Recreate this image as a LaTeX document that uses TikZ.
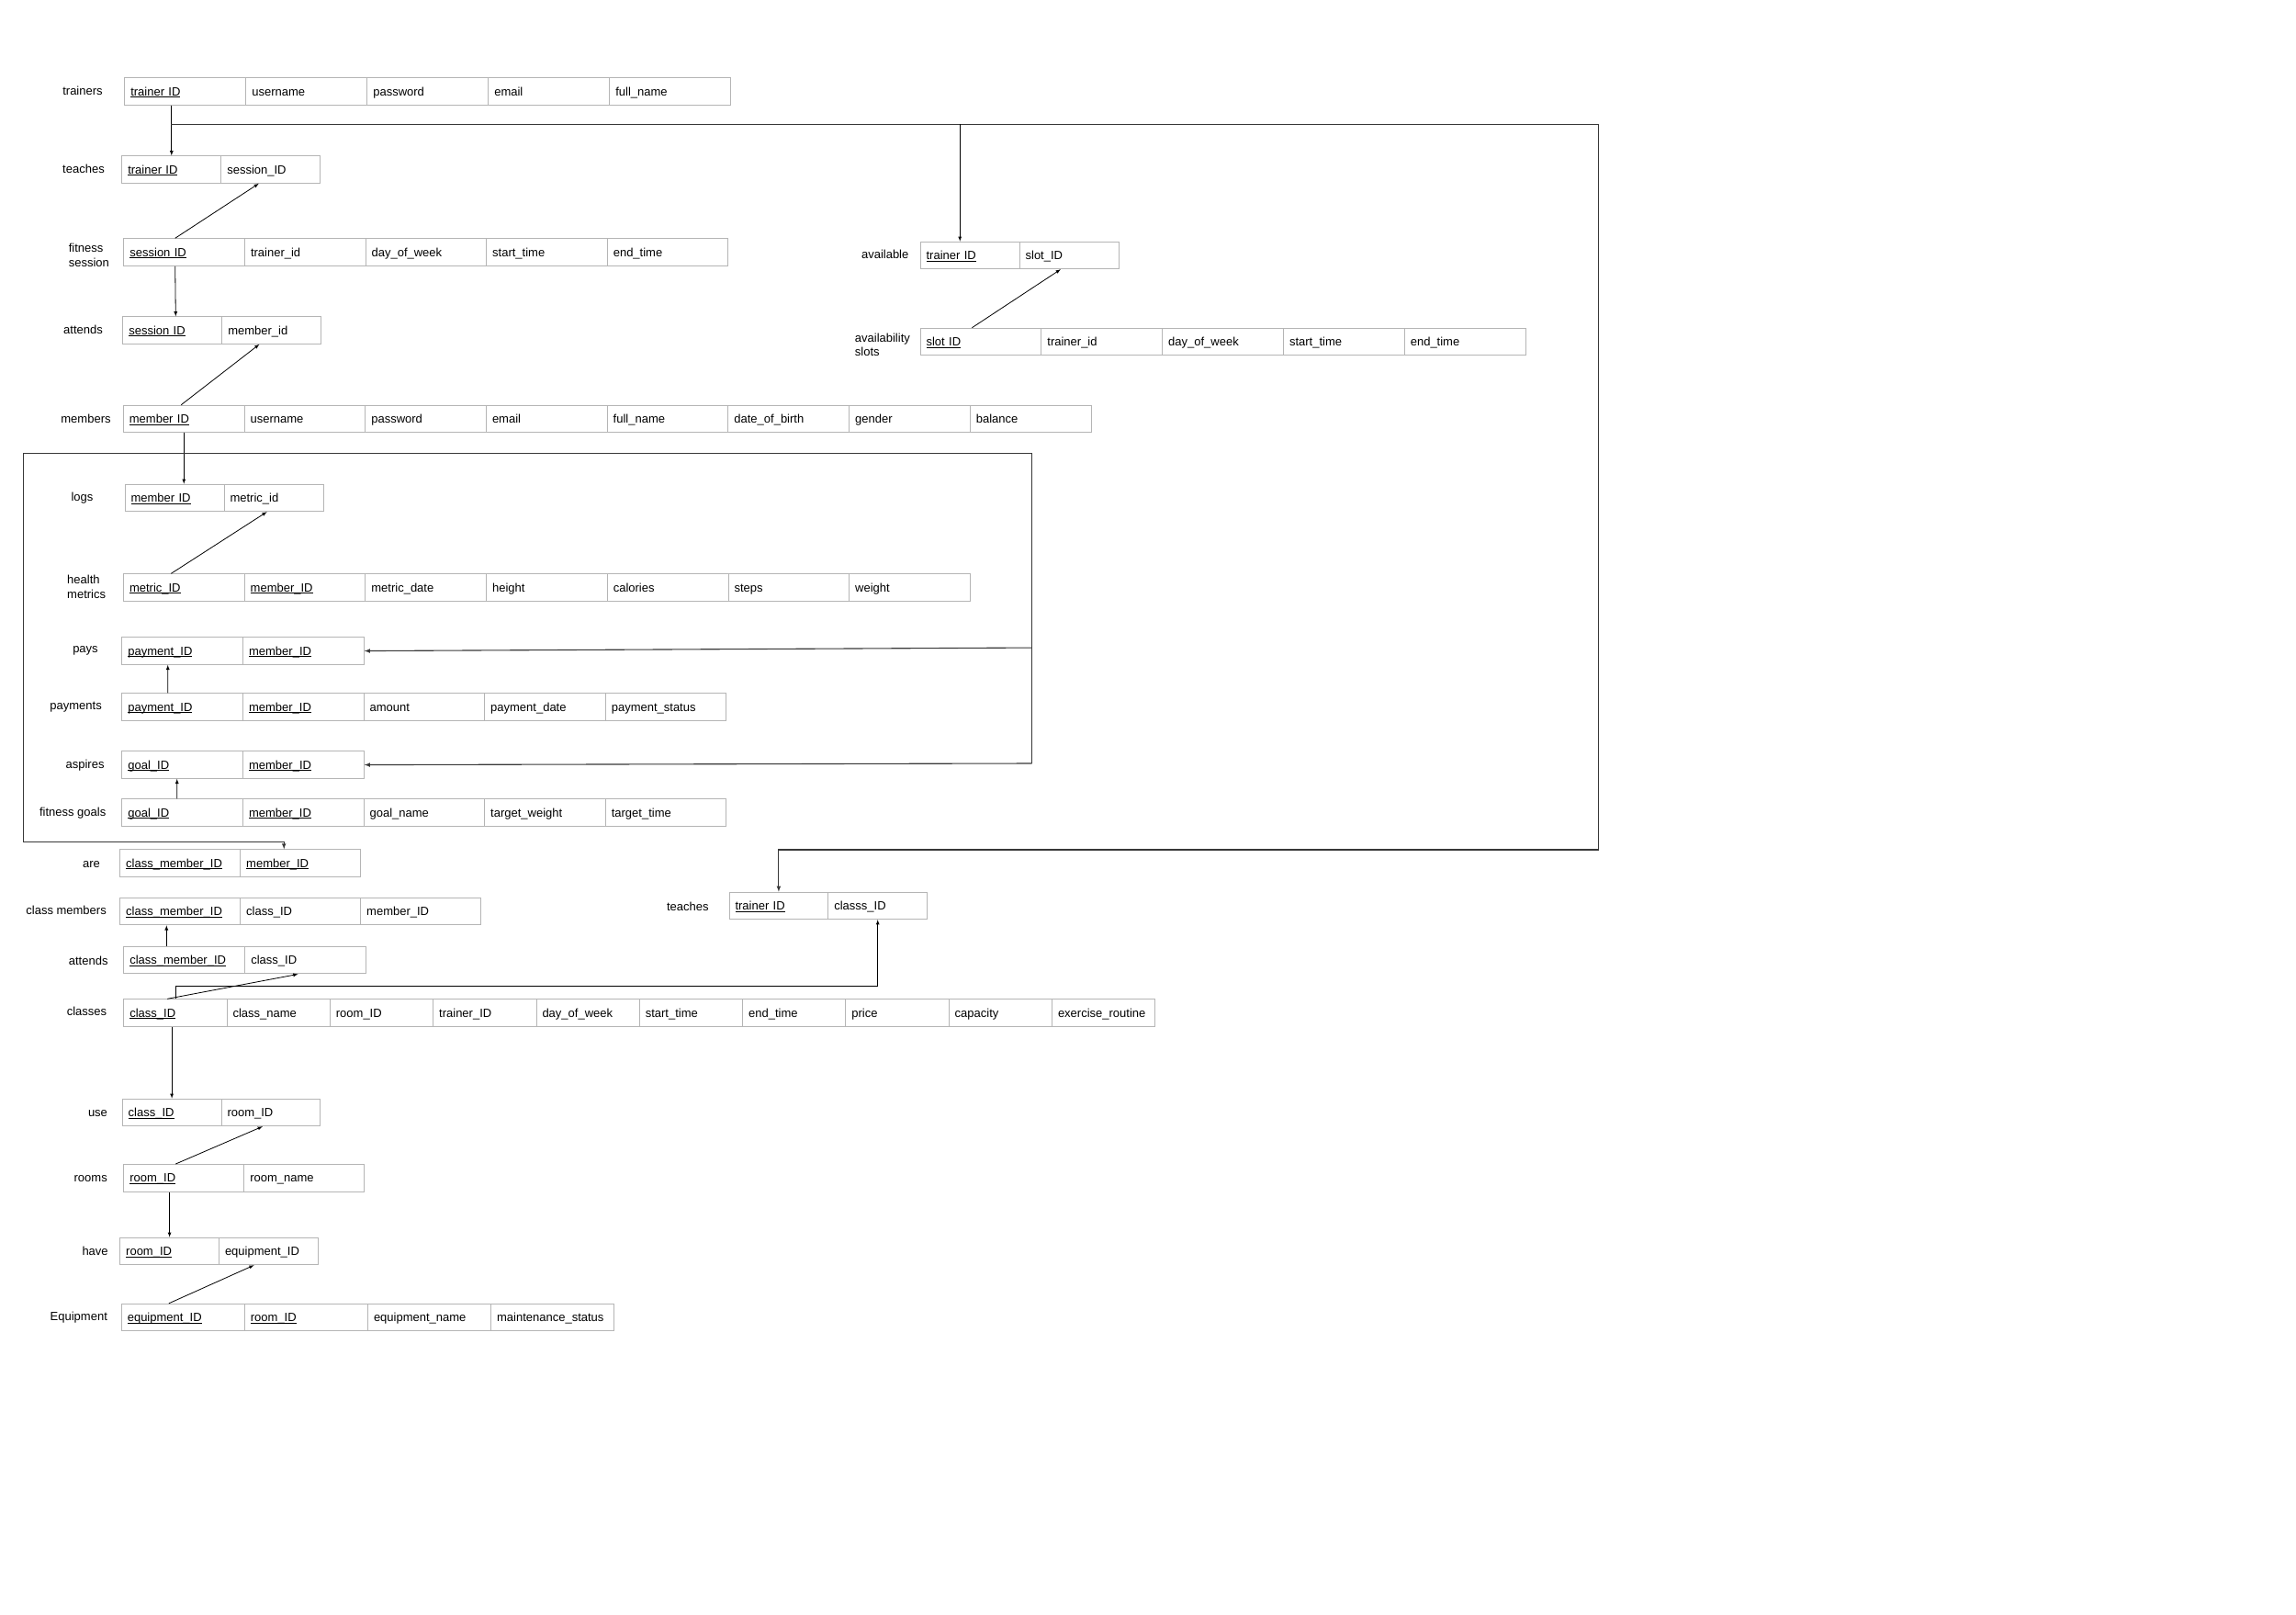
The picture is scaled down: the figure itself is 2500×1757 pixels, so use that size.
\documentclass[tikz,border=0pt]{standalone}
\usepackage{fontspec}
\setmainfont{Liberation Sans}
\usepackage{tikz}
\usetikzlibrary{positioning}
\usetikzlibrary{calc}
\definecolor{cellgray}{HTML}{B5B5B5}
\definecolor{busgray}{HTML}{383838}
\newcommand{\ukey}[1]{\underline{\smash{#1}}}
\tikzset{every picture/.style={line width=1pt}}
\begin{document}
\begin{tikzpicture}[x=1pt,y=-1pt,font=\fontsize{13}{15.5}\selectfont,
cell/.style={draw=cellgray,anchor=north west,inner xsep=6.5pt,inner ysep=0pt,text width=#1,minimum height=29.5pt,text height=10.5pt,text depth=1.5pt,align=left},
tname/.style={inner sep=0pt},
link/.style={-latex,line width=0.8pt},
bus/.style={draw=busgray,line width=1.1pt}]
\useasboundingbox (0,0) rectangle (2500,1757);
% trainers
\node[tname] (trl) at (90,99) {trainers};
\foreach \t [count=\i] in {\ukey{trainer ID},username,password,email,full\_name}
\node[cell=119pt] (tr\i) at ({135.3+132*(\i-1)},84.3) {\t};
% teaches
\node[tname] (tel) at (91,184) {teaches};
\foreach \t [count=\i] in {\ukey{trainer ID},session\_ID}
\node[cell=95pt] (te\i) at ({132.3+108*(\i-1)},169.3) {\t};
% fitness session
\node[tname,align=left,anchor=west] (fsl) at (74.3,277.7) {fitness\\session};
\foreach \t [count=\i] in {\ukey{session ID},trainer\_id,day\_of\_week,start\_time,end\_time}
\node[cell=118.6pt] (fs\i) at ({134.4+131.6*(\i-1)},259.3) {\t};
% attends
\node[tname] (atl) at (90.5,359) {attends};
\foreach \t [count=\i] in {\ukey{session ID},member\_id}
\node[cell=95pt] (at\i) at ({133.3+108*(\i-1)},344.3) {\t};
% members
\node[tname] (mel) at (93.5,456) {members};
\foreach \t [count=\i] in {\ukey{member ID},username,password,email,full\_name,date\_of\_birth,gender,balance}
\node[cell=118.7pt] (me\i) at ({133.9+131.7*(\i-1)},440.7) {\t};
% logs
\node[tname] (lol) at (89.5,542) {logs};
\foreach \t [count=\i] in {\ukey{member ID},metric\_id}
\node[cell=95pt] (lo\i) at ({135.5+108*(\i-1)},526.7) {\t};
% health metrics
\node[tname,align=left,anchor=west] (hml) at (72.7,638.7) {health\\metrics};
\foreach \t [count=\i] in {\ukey{metric\_ID},\ukey{member\_ID},metric\_date,height,calories,steps,weight}
\node[cell=118.7pt] (hm\i) at ({134+131.7*(\i-1)},624.3) {\t};
% pays
\node[tname] (pal) at (93,708.3) {pays};
\foreach \t [count=\i] in {\ukey{payment\_ID},\ukey{member\_ID}}
\node[cell=118.7pt] (pa\i) at ({132.4+131.7*(\i-1)},693.3) {\t};
% payments
\node[tname] (pml) at (82.6,769.3) {payments};
\foreach \t [count=\i] in {\ukey{payment\_ID},\ukey{member\_ID},amount,payment\_date,payment\_status}
\node[cell=118.6pt] (pm\i) at ({132.4+131.6*(\i-1)},754.3) {\t};
% aspires
\node[tname] (asl) at (92.6,832.7) {aspires};
\foreach \t [count=\i] in {\ukey{goal\_ID},\ukey{member\_ID}}
\node[cell=118.7pt] (as\i) at ({132.4+131.7*(\i-1)},817.3) {\t};
% fitness goals
\node[tname] (fgl) at (79.2,885) {fitness goals};
\foreach \t [count=\i] in {\ukey{goal\_ID},\ukey{member\_ID},goal\_name,target\_weight,target\_time}
\node[cell=118.6pt] (fg\i) at ({132.4+131.6*(\i-1)},869.3) {\t};
% are
\node[tname] (arl) at (99.5,941) {are};
\foreach \t [count=\i] in {\ukey{class\_member\_ID},\ukey{member\_ID}}
\node[cell=118pt] (ar\i) at ({130.2+131*(\i-1)},924.4) {\t};
% class members
\node[tname] (cml) at (72.1,990.8) {class members};
\foreach \t [count=\i] in {\ukey{class\_member\_ID},class\_ID,member\_ID}
\node[cell=118pt] (cm\i) at ({130.2+131*(\i-1)},976.8) {\t};
% attends (classes)
\node[tname] (cal) at (96.2,1046) {attends};
\foreach \t [count=\i] in {\ukey{class\_member\_ID},class\_ID}
\node[cell=119pt] (ca\i) at ({134.3+132*(\i-1)},1029.9) {\t};
% classes
\node[tname] (cll) at (94.5,1101) {classes};
\foreach \t [count=\i] in {\ukey{class\_ID},class\_name,room\_ID,trainer\_ID,day\_of\_week,start\_time,end\_time,price,capacity,exercise\_routine}
\node[cell=99.3pt] (cl\i) at ({134.3+112.3*(\i-1)},1087.3) {\t};
% teaches (classes)
\node[tname] (tcl) at (748.8,986.8) {teaches};
\foreach \t [count=\i] in {\ukey{trainer ID},classs\_ID}
\node[cell=94.8pt] (tc\i) at ({793.5+107.8*(\i-1)},970.7) {\t};
% use
\node[tname] (usl) at (106.5,1212.5) {use};
\foreach \t [count=\i] in {\ukey{class\_ID},room\_ID}
\node[cell=94.8pt] (us\i) at ({132.7+107.8*(\i-1)},1195.7) {\t};
% rooms
\node[tname] (rol) at (98.7,1283) {rooms};
\foreach \t [count=\i] in {\ukey{room\_ID},room\_name}
\node[cell=118pt] (ro\i) at ({134.3+131*(\i-1)},1267) {\t};
% have
\node[tname] (hal) at (103.6,1362) {have};
\foreach \t [count=\i] in {\ukey{room\_ID},equipment\_ID}
\node[cell=94.8pt] (ha\i) at ({130.2+107.8*(\i-1)},1346.7) {\t};
% Equipment
\node[tname] (eql) at (85.8,1434.3) {Equipment};
\foreach \t [count=\i] in {\ukey{equipment\_ID},\ukey{room\_ID},equipment\_name,maintenance\_status}
\node[cell=121.1pt] (eq\i) at ({131.8+134.1*(\i-1)},1418.8) {\t};
% available
\node[tname] (avl) at (963.7,277.3) {available};
\foreach \t [count=\i] in {\ukey{trainer ID},slot\_ID}
\node[cell=95pt] (av\i) at ({1001.6+108*(\i-1)},262.7) {\t};
% availability slots
\node[tname,align=left,anchor=west] (sll) at (930.4,375.5) {availability\\slots};
\foreach \t [count=\i] in {\ukey{slot ID},trainer\_id,day\_of\_week,start\_time,end\_time}
\node[cell=118.8pt] (sl\i) at ({1001.6+131.8*(\i-1)},356.7) {\t};
% bus corners
\coordinate (tbus) at (186.4,135.3);
\coordinate (avbus) at (1045.2,135.3);
\coordinate (tcorner) at (1740.7,925);
\coordinate (mbus) at (199.5,493.3);
\coordinate (lcorner) at (25.3,916.7);
\coordinate (rcorner) at (1123.5,831);
% trainer links
\draw[link] (tr1.south -| te1.north) -- (te1.north);
\draw[bus,-latex] (tbus) -| (tcorner) -| (tc1.north);
\draw[link] (avbus) -- (avbus |- av1.north);
\draw[link] ([xshift=-9.6]sl1.north) -- ([xshift=-9.2]av2.south);
% sessions
\draw[link] ([xshift=-10]fs1.north) -- ([xshift=-13]te2.south);
\draw[link] ([xshift=-10]fs1.south) -- ([xshift=3.5]at1.north);
\draw[link] ([xshift=-3]me1.north) -- ([xshift=-13.4]at2.south);
% members
\draw[link] (me1.south) -- (me1.south |- lo1.north);
\draw[bus,-latex] (mbus) -| (lcorner) -| ([xshift=-18]ar2.north);
\draw[bus] (mbus) -| (rcorner);
\draw[bus,-latex] ([yshift=3.5]rcorner |- pa2.east) -- (pa2.east);
\draw[bus,-latex] (rcorner) -- (as2.east);
\draw[link] ([xshift=-14]hm1.north) -- ([xshift=-7.4]lo2.south);
\draw[link] ([xshift=-16]pm1.north) -- ([xshift=-16]pa1.south);
\draw[link] ([xshift=-6]fg1.north) -- ([xshift=-6]as1.south);
% classes
\draw[link] ([xshift=-19.5]ca1.north) -- ([xshift=-19.5]ca1.north |- cm1.south);
\draw[link] ([xshift=-8.8]cl1.north) -- ([xshift=-8.3]ca2.south);
\draw[link] (cl1.north) -- ++(0,-14) -| (tc2.south);
\draw[link] (cl1.south -| us1.north) -- (us1.north);
% rooms
\draw[link] ([xshift=-9]ro1.north) -- ([xshift=-9]us2.south);
\draw[link] (ro1.south -| ha1.north) -- (ha1.north);
\draw[link] ([xshift=-15.5]eq1.north) -- ([xshift=-15.8]ha2.south);
\end{tikzpicture}
\end{document}
